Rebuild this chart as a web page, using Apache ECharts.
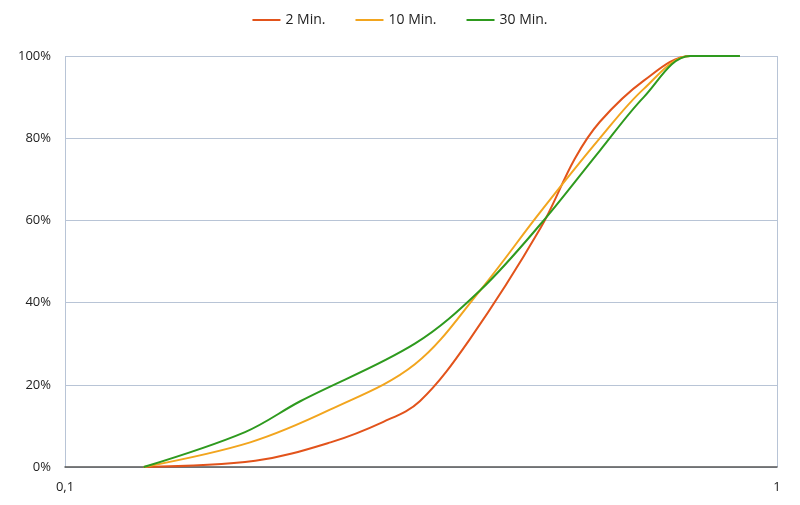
<!DOCTYPE html>
<html>
<head>
<meta charset="utf-8">
<script src="https://cdn.jsdelivr.net/npm/echarts@6/dist/echarts.min.js"></script>
<style>html,body{margin:0;background:#fff}#chart{width:800px;height:505px}</style>
</head>
<body>
<div id="chart"></div>
<script>
const seriesNames = ['2 Min.', '10 Min.', '30 Min.']
const yTicks = [0, 20, 40, 60, 80, 100]
const min2 = [[0.129, 0], [0.185, 1.5], [0.236, 6], [0.28, 11], [0.315, 16], [0.37, 31], [0.465, 58], [0.52, 75], [0.564, 84], [0.65, 94], [0.755, 100], [0.887, 100]]
const min10 = [[0.129, 0], [0.182, 6], [0.236, 14], [0.31, 25], [0.383, 43], [0.465, 62], [0.564, 80], [0.65, 92], [0.755, 100], [0.887, 100]]
const min30 = [[0.129, 0], [0.179, 8.5], [0.214, 16], [0.31, 30], [0.383, 43], [0.465, 59], [0.564, 77], [0.65, 90], [0.755, 100], [0.887, 100]]
const colors = ['#E2531B', '#F2A51E', '#2E9A1E']

const chart = echarts.init(document.getElementById('chart'))
const mk = (name, data, i) => ({
  name, type: 'line', data, smooth: 0.35, showSymbol: false,
  lineStyle: { width: 2, color: colors[i] }, itemStyle: { color: colors[i] }
})
chart.setOption({
  animation: false,
  legend: {
    top: 8, left: 'center', itemWidth: 28, itemHeight: 2, itemGap: 30,
    icon: 'rect', textStyle: { fontFamily: 'Open Sans', fontSize: 14, color: '#222' },
    data: seriesNames
  },
  grid: { left: 65, right: 23, top: 56, bottom: 38 },
  xAxis: {
    type: 'log', logBase: 10, min: 0.1, max: 1,
    axisLine: { lineStyle: { color: '#555', width: 1.5 } },
    axisTick: { show: false },
    axisLabel: { color: '#222', fontFamily: 'Open Sans', fontSize: 13, margin: 14,
      formatter: v => String(v).replace('.', ',') },
    splitLine: { show: true, lineStyle: { color: '#B8C4D6' } }
  },
  yAxis: {
    type: 'value', min: 0, max: 100, interval: 20,
    axisLine: { show: false }, axisTick: { show: false },
    axisLabel: { color: '#222', fontFamily: 'Open Sans', fontSize: 13, margin: 14,
      formatter: v => yTicks.includes(v) ? v + '%' : '' },
    splitLine: { lineStyle: { color: '#B8C4D6' } }
  },
  series: [mk(seriesNames[0], min2, 0), mk(seriesNames[1], min10, 1), mk(seriesNames[2], min30, 2)]
})
</script>
</body>
</html>
